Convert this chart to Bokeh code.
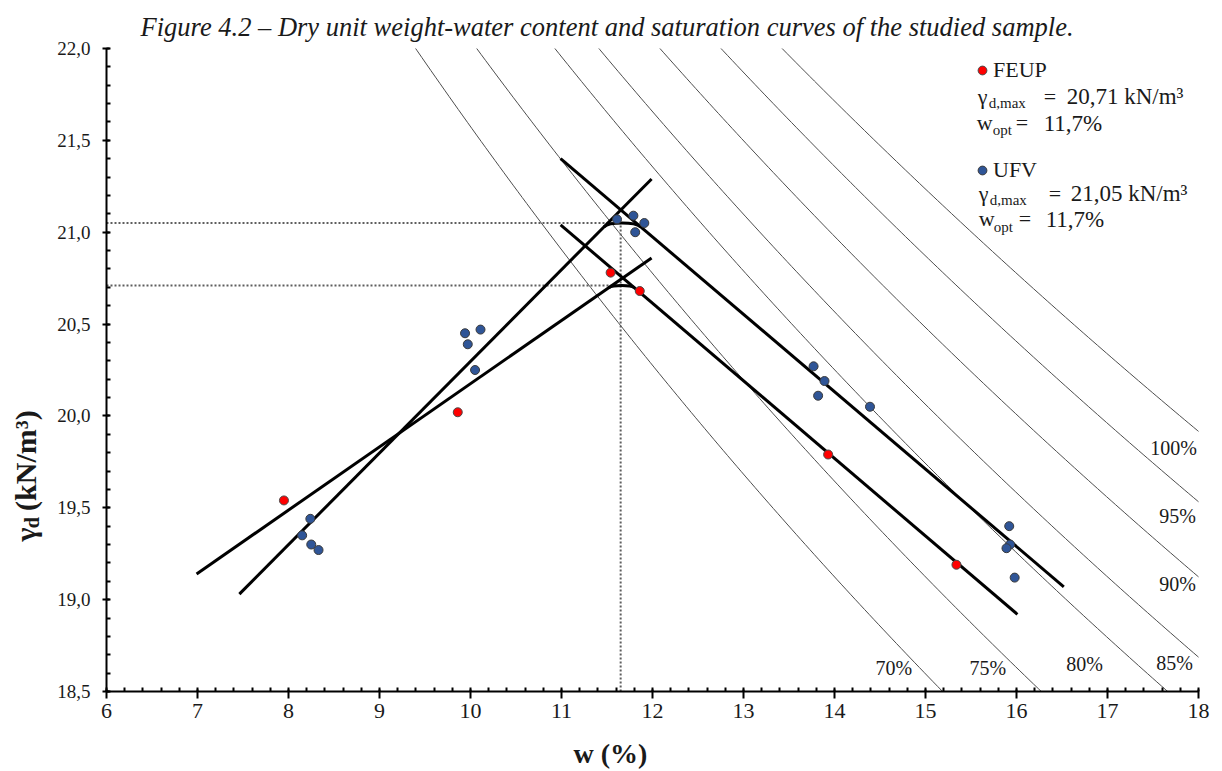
import numpy as np
from math import pi
from bokeh.plotting import figure
from bokeh.layouts import column, row
from bokeh.models import FixedTicker, Label, Range1d, Legend, LegendItem
from bokeh.embed import file_html
from bokeh.resources import INLINE

# ---------------- data ----------------
feup_w = [7.95, 9.86, 11.54, 11.86, 13.93, 15.34]
feup_gd = [19.54, 20.02, 20.78, 20.68, 19.79, 19.19]

ufv_w = [8.24, 8.15, 8.25, 8.33, 9.94, 10.11, 9.97, 10.05,
         11.61, 11.79, 11.91, 11.81, 13.77, 13.89, 13.82, 14.39,
         15.92, 15.93, 15.89, 15.98]
ufv_gd = [19.44, 19.35, 19.30, 19.27, 20.45, 20.47, 20.39, 20.25,
          21.07, 21.09, 21.05, 21.00, 20.27, 20.19, 20.11, 20.05,
          19.40, 19.30, 19.28, 19.12]

# fitted lines (dry and wet branches)
feup_dry_w = [6.99, 11.99]
feup_dry_gd = [19.14, 20.86]
feup_wet_w = [10.99, 16.01]
feup_wet_gd = [21.04, 18.92]
ufv_dry_w = [7.46, 11.99]
ufv_dry_gd = [19.03, 21.29]
ufv_wet_w = [10.99, 16.52]
ufv_wet_gd = [21.40, 19.07]

feup_gdmax = 20.71
ufv_gdmax = 21.05
w_opt = 11.65

# saturation curves
sat_levels = [0.70, 0.75, 0.814, 0.85, 0.90, 0.95, 1.00]
sat_labels = ["70%", "75%", "80%", "85%", "90%", "95%", "100%"]
Gs = 3.30
gamma_w = 9.62

x_ticks = [6, 7, 8, 9, 10, 11, 12, 13, 14, 15, 16, 17, 18]
y_ticks = [18.5, 19.0, 19.5, 20.0, 20.5, 21.0, 21.5, 22.0]
y_tick_labels = ["18,5", "19,0", "19,5", "20,0", "20,5", "21,0", "21,5", "22,0"]

title_text = "Figure 4.2 \u2013 Dry unit weight-water content and saturation curves of the studied sample."

# ---------------- layout ----------------
W = 1212
LEFT_W = 54
MAIN_H = 737
BOT_H = 32
FL, FT, PXU, PYU = 105.0, 48.0, 91.08, 183.7   # page position of frame, px per unit
BL = 6   # offset between requested and drawn alphabetic baseline


def dx(px):
    return 6 + (px - FL) / PXU


def dy(py):
    return 22 - (py - FT) / PYU


SERIF = "Liberation Serif"
INK = "#1a1a1a"


def aux(w, h):
    f = figure(width=w, height=h, output_backend="svg", toolbar_location=None,
               x_range=Range1d(0, w), y_range=Range1d(h, 0),
               x_axis_location=None, y_axis_location=None,
               min_border=0, outline_line_color=None)
    f.grid.visible = False
    f.background_fill_color = "white"
    f.border_fill_color = "white"
    return f


p = figure(width=W - LEFT_W, height=MAIN_H, output_backend="svg", toolbar_location=None,
           x_range=Range1d(6, 18), y_range=Range1d(18.5, 22),
           min_border_left=int(FL - LEFT_W), min_border_right=W - 1198,
           min_border_top=int(FT), min_border_bottom=MAIN_H - int(FT) - 643)
p.outline_line_color = None
p.xgrid.visible = False
p.ygrid.visible = False
p.background_fill_color = "white"
p.border_fill_color = "white"

# title
p.title.text = title_text
p.title.align = "left"
p.title.offset = 139 - FL
p.title.standoff = 14
p.title.text_font = SERIF
p.title.text_font_size = "26.5px"
p.title.text_font_style = "italic"
p.title.text_color = INK

# axes
p.xaxis.ticker = FixedTicker(ticks=x_ticks, minor_ticks=list(np.round(np.arange(6, 18.001, 0.2), 2)))
p.yaxis.ticker = FixedTicker(ticks=y_ticks, minor_ticks=list(np.round(np.arange(18.5, 22.001, 0.1), 2)))
p.yaxis.major_label_overrides = {t: s for t, s in zip(y_ticks, y_tick_labels)}
for ax in (p.xaxis, p.yaxis):
    ax.axis_line_width = 2
    ax.axis_line_color = "black"
    ax.major_tick_line_width = 2
    ax.major_tick_line_color = "black"
    ax.minor_tick_line_width = 2
    ax.minor_tick_line_color = "black"
    ax.major_label_text_font = SERIF
    ax.major_label_text_color = INK
    ax.minor_tick_out = 0
    ax.minor_tick_in = 4
p.xaxis.major_tick_in = 2
p.xaxis.major_tick_out = 7
p.yaxis.major_tick_in = 3
p.yaxis.major_tick_out = 4
p.xaxis.major_label_text_font_size = "22px"
p.yaxis.major_label_text_font_size = "19px"
p.xaxis.major_label_standoff = 5
p.yaxis.major_label_standoff = 12

# saturation curves
w_grid = np.linspace(0.05, 0.20, 300)
xs, ys = [], []
for S in sat_levels:
    xs.append(list(w_grid * 100))
    ys.append(list(Gs * gamma_w / (1 + w_grid * Gs / S)))
p.multi_line(xs, ys, line_color="#4d4d4d", line_width=1)

sat_label_pos = [(893, 667), (987, 667), (1084, 663), (1174, 662),
                 (1177, 583), (1177, 515), (1173, 447)]
for txt_, (lx, ly) in zip(sat_labels, sat_label_pos):
    p.add_layout(Label(x=dx(lx), y=dy(ly), text=txt_, text_font=SERIF,
                       text_font_size="20px", text_color=INK,
                       text_align="center", text_baseline="middle"))

# reference dotted lines
p.line([6, w_opt], [ufv_gdmax, ufv_gdmax], line_color="#5e5e5e", line_width=2, line_dash="2 2")
p.line([6, w_opt], [feup_gdmax, feup_gdmax], line_color="#5e5e5e", line_width=2, line_dash="2 2")
p.line([w_opt, w_opt], [18.5, ufv_gdmax], line_color="#5e5e5e", line_width=2, line_dash="2 2")

# fitted lines
for lw_, lg_ in ((feup_dry_w, feup_dry_gd), (feup_wet_w, feup_wet_gd),
                 (ufv_dry_w, ufv_dry_gd), (ufv_wet_w, ufv_wet_gd)):
    p.line(lw_, lg_, line_color="black", line_width=3)


def cap(dw, dg, ww, wg, gmax, alpha=0.3):
    s1 = (dg[1] - dg[0]) / (dw[1] - dw[0])
    s2 = (wg[1] - wg[0]) / (ww[1] - ww[0])
    wc = (wg[0] - s2 * ww[0] - dg[0] + s1 * dw[0]) / (s1 - s2)
    gc = dg[0] + s1 * (wc - dw[0])
    D = (gc - gmax) / (1 - 0.75 * alpha)
    x0, y0 = wc - D / s1, gc - D
    x1, y1 = wc - D / s2, gc - D
    c0x, c0y = x0 + alpha * (wc - x0), y0 + alpha * (gc - y0)
    c1x, c1y = x1 + alpha * (wc - x1), y1 + alpha * (gc - y1)
    p.bezier(x0=[x0], y0=[y0], x1=[x1], y1=[y1], cx0=[c0x], cy0=[c0y],
             cx1=[c1x], cy1=[c1y], line_color="black", line_width=3)


cap(feup_dry_w, feup_dry_gd, feup_wet_w, feup_wet_gd, feup_gdmax)
cap(ufv_dry_w, ufv_dry_gd, ufv_wet_w, ufv_wet_gd, ufv_gdmax)

# data points
r_feup = p.scatter(feup_w, feup_gd, size=9, fill_color="#ff0000", line_color="#4a4a4a", line_width=1)
r_ufv = p.scatter(ufv_w, ufv_gd, size=9, fill_color="#2f5597", line_color="#3a3a3a", line_width=1)

# legends
for r, name, ctr in ((r_feup, "FEUP", 70), (r_ufv, "UFV", 170)):
    lg = Legend(items=[LegendItem(label=name, renderers=[r])],
                location=(970 - FL, (691 - ctr) - 13),
                border_line_color=None, background_fill_alpha=0,
                padding=0, margin=0, spacing=0,
                glyph_width=22, glyph_height=22, label_height=26,
                label_standoff=0, label_text_font=SERIF,
                label_text_font_size="22px", label_text_color=INK,
                label_text_baseline="middle")
    p.add_layout(lg)


def txt(x, y, s, size, off=BL):
    p.add_layout(Label(x=dx(x), y=dy(y - off), text=s, text_font=SERIF,
                       text_font_size=size, text_color=INK,
                       text_align="left", text_baseline="alphabetic"))


# legend parameter blocks
txt(977, 102, "\u03b3", "22px")
txt(988, 106, "d,max", "15px", 4)
txt(1043, 102, "=", "22px")
txt(1066, 102, "20,71 kN/m\u00b3", "23px")
txt(976, 128, "w", "22px")
txt(992, 133, "opt", "15px", 4)
txt(1015, 128, "=", "22px")
txt(1043, 129, "11,7%", "23px")

txt(978, 199, "\u03b3", "22px")
txt(989, 203, "d,max", "15px", 4)
txt(1048, 199, "=", "22px")
txt(1070, 199, "21,05 kN/m\u00b3", "23px")
txt(978, 224, "w", "22px")
txt(993, 230, "opt", "15px", 4)
txt(1018, 224, "=", "22px")
txt(1045, 225, "11,7%", "23px")

# ---------------- y-axis title (left strip) ----------------
left = aux(LEFT_W, MAIN_H)
ROT_SHIFT = 30   # drawn rotated labels appear this much above the requested start


def ylab(x, y, s, size):
    left.add_layout(Label(x=x - BL, y=y + ROT_SHIFT, text=s, text_font=SERIF,
                          text_font_size=size, text_font_style="bold", text_color=INK,
                          angle=pi / 2, text_align="left", text_baseline="alphabetic"))


ylab(31, 535, "\u03b3", "30px")
ylab(37, 520, "d", "20px")
ylab(31, 500, "(kN/m\u00b3)", "30px")

# ---------------- x-axis title (bottom strip) ----------------
bot = aux(W, BOT_H)
bot.add_layout(Label(x=610, y=753 - MAIN_H, text="w (%)", text_font=SERIF,
                     text_font_size="28px", text_font_style="bold", text_color=INK,
                     text_align="center", text_baseline="middle"))

layout = column(row(left, p), bot)
open("out.html", "w").write(file_html(layout, INLINE))
